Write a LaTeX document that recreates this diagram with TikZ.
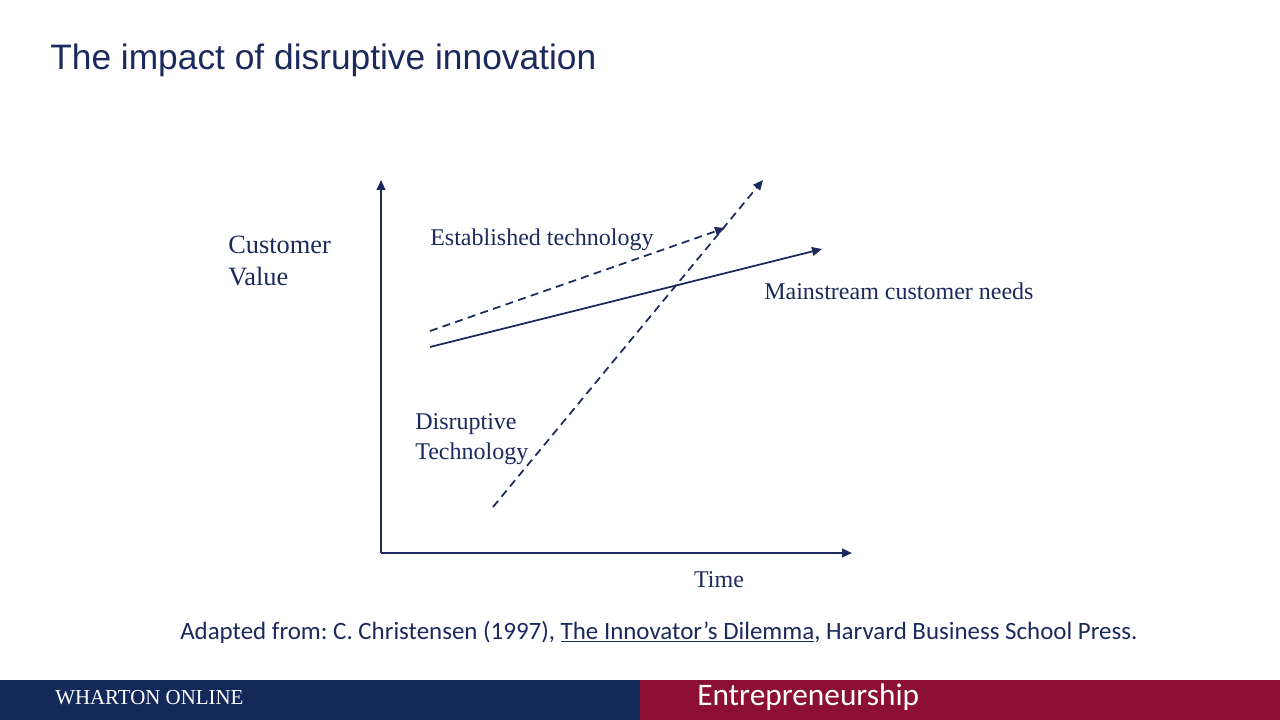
\documentclass[tikz,border=0pt]{standalone}
\usepackage{fontspec}
\setmainfont{Liberation Serif}
\newfontfamily\titlefont{Liberation Sans}
\newfontfamily\calfont{Carlito}
\usetikzlibrary{arrows.meta}
\frenchspacing
\definecolor{navy}{HTML}{1B2A5C}
\definecolor{barblue}{HTML}{13295A}
\definecolor{barred}{HTML}{8B1032}
\tikzset{
  axisline/.style={draw=navy, line width=1.5pt, -{Triangle[length=7.5pt,width=6.5pt]}},
  curveline/.style={draw=navy, line width=1.3pt, -{Triangle[length=7.5pt,width=6.5pt]}},
  dashline/.style={curveline, dash pattern=on 6pt off 4pt},
  lbl/.style={text=navy, font=\fontsize{18}{21}\selectfont, inner sep=0pt},
}
\begin{document}
\begin{tikzpicture}[x=0.75pt,y=-0.75pt]
\useasboundingbox (0,0) rectangle (1280,720);
\fill[white] (0,0) rectangle (1280,720);
% title
\node[anchor=base west, inner sep=0pt, text=navy, font=\titlefont\fontsize{26.5}{30}\selectfont] (title) at (50,70) {The impact of disruptive innovation};
% axes
\coordinate (O) at (381,553);
\coordinate (ytop) at (381,180);
\coordinate (xend) at (852,553);
\draw[axisline] (O) -- (ytop);
\draw[axisline] (O) -- (xend);
% lines
\coordinate (est0) at (430,331);
\coordinate (est1) at (725,228);
\coordinate (main0) at (430,347);
\coordinate (main1) at (822,249);
\coordinate (dis0) at (493,507);
\coordinate (dis1) at (763,180);
\draw[dashline] (est0) -- (est1);
\draw[curveline] (main0) -- (main1);
\draw[dashline] (dis0) -- (dis1);
% labels
\node[lbl, anchor=west, align=left, font=\fontsize{19.8}{23}\selectfont] (cv) at (228,261) {Customer\\[1pt]Value};
\node[lbl, anchor=base west] (est) at (430,246) {Established technology};
\node[lbl, anchor=base west] (main) at (764,299) {Mainstream customer needs};
\node[lbl, anchor=west, align=left] (dis) at (415,439) {Disruptive\\[2pt]Technology};
\node[lbl, anchor=base] (time) at (719,587) {Time};
% source
\node[anchor=base west, inner sep=0pt, text=navy, font=\calfont\fontsize{18.7}{21}\selectfont] (src) at (180,639) {Adapted from: C. Christensen (1997), \underline{The Innovator’s Dilemma}, Harvard Business School Press.};
% footer
\fill[barblue] (0,680) rectangle (640,720);
\fill[barred] (640,680) rectangle (1280,720);
\node[anchor=base west, inner sep=0pt, text=white, font=\fontsize{16}{18}\selectfont] (wh) at (55,704) {\scalebox{0.98}[1]{WHARTON ONLINE}};
\node[anchor=base west, inner sep=0pt, text=white, font=\calfont\fontsize{23.5}{26}\selectfont] (ent) at (697,705) {Entrepreneurship};
\end{tikzpicture}
\end{document}
